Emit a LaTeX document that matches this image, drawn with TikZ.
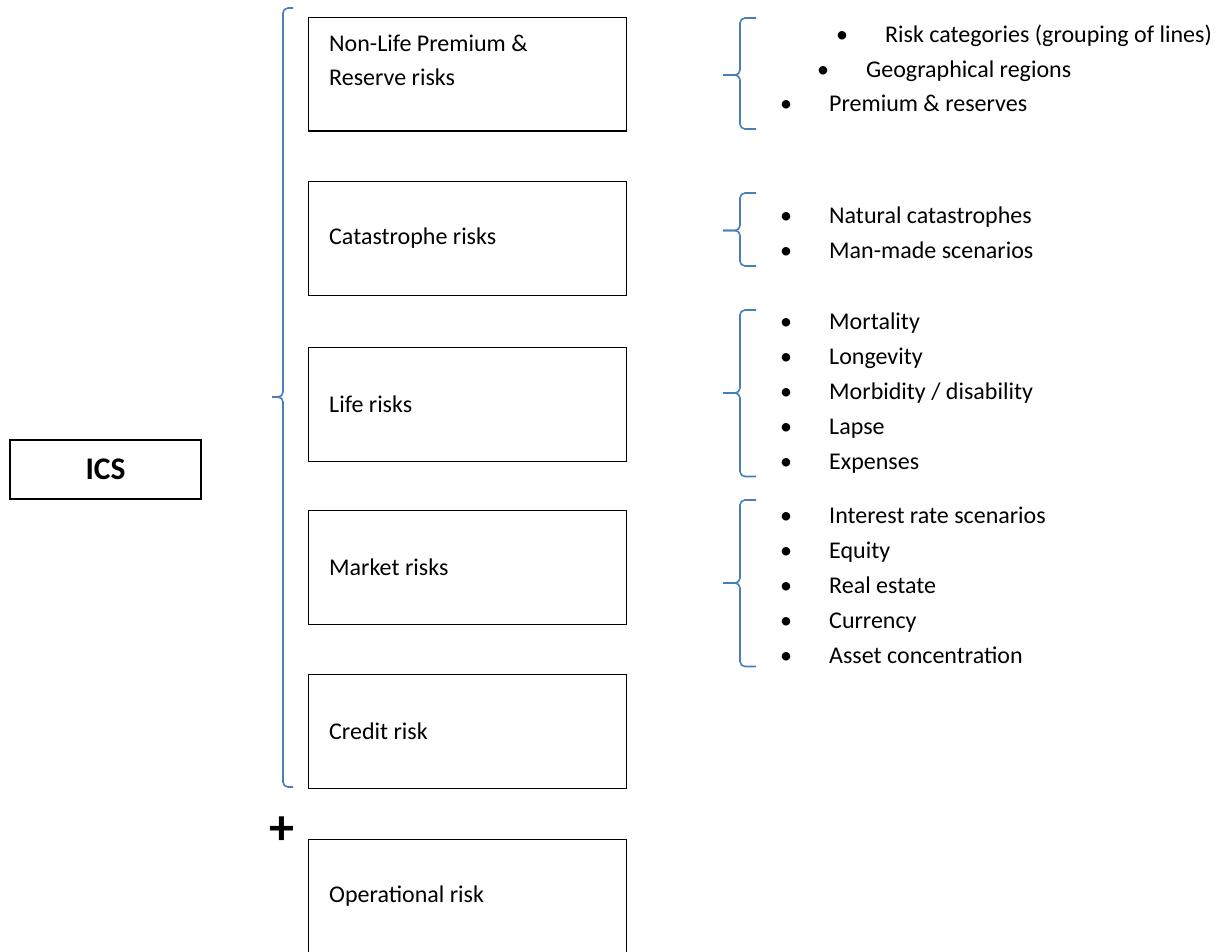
\documentclass[tikz,border=0pt]{standalone}
\usepackage{fontspec}
\setmainfont{Carlito}
\usetikzlibrary{positioning}
\definecolor{braceblue}{HTML}{4A7EBB}

\begin{document}
\begin{tikzpicture}[
    x=1pt, y=-1pt,
    riskbox/.style={
      rectangle, draw=black, line width=1.1pt,
      minimum width=318pt, minimum height=113.5pt,
      anchor=north west, inner sep=0pt,
    },
    icsbox/.style={
      rectangle, draw=black, line width=1.1pt,
      minimum width=191pt, minimum height=59pt,
      font=\fontsize{31.5}{36}\selectfont\bfseries,
    },
    boxtext/.style={anchor=west, align=left, inner sep=0pt,
      font=\fontsize{24}{34}\selectfont},
    item/.style={anchor=base west, inner sep=0pt,
      font=\fontsize{24}{28}\selectfont},
    dot/.style={anchor=base, inner sep=0pt,
      font=\fontsize{24}{28}\selectfont},
    brace/.style={draw=braceblue, line width=1.6pt, rounded corners=5pt},
  ]
  \useasboundingbox (0,0) rectangle (1223,952);

  % ---- ICS ----
  \node[icsbox] (ics) at (105.5, 469.5) {ICS};

  % ---- risk modules ----
  \node[riskbox] (nonlife) at (308, 17)  {};
  \node[riskbox] (cat)     at (308, 181) {};
  \node[riskbox] (life)    at (308, 347) {};
  \node[riskbox] (market)  at (308, 510) {};
  \node[riskbox] (credit)  at (308, 674) {};
  \node[riskbox] (oper)    at (308, 839) {};

  \node[boxtext] (nonlifetxt) at ([xshift=21pt, yshift=14pt]nonlife.west) {Non-Life Premium \&\\Reserve risks};
  \node[boxtext] (cattxt)    at ([xshift=21pt]cat.west)    {Catastrophe risks};
  \node[boxtext] (lifetxt)   at ([xshift=21pt]life.west)   {Life risks};
  \node[boxtext] (markettxt) at ([xshift=21pt]market.west) {Market risks};
  \node[boxtext] (credittxt) at ([xshift=21pt]credit.west) {Credit risk};
  \node[boxtext] (opertxt)   at ([xshift=21pt]oper.west)   {Operational risk};

  % ---- big brace and plus ----
  \draw[brace] (293, 8) -- (283, 8) -- (283, 397) -- (272, 397);
  \draw[brace] (272, 397) -- (283, 397) -- (283, 787) -- (293, 787);
  \node[font=\fontsize{50}{50}\selectfont\bfseries, inner sep=0pt] (plus) at (282, 831) {+};

  % ---- non-life sub-risks ----
  \draw[brace] (756, 18) -- (740, 18) -- (740, 75) -- (723, 75);
  \draw[brace] (723, 75) -- (740, 75) -- (740, 129) -- (756, 129);
  \node[dot]  (d1) at (842, 43)   {\textbullet};
  \node[item] (i1) at (885, 43)   {Risk categories (grouping of lines)};
  \node[dot]  (d2) at (823, 77.5) {\textbullet};
  \node[item] (i2) at (866, 77.5) {Geographical regions};
  \node[dot]  (d3) at (786, 112)  {\textbullet};
  \node[item] (i3) at (829, 112)  {Premium \& reserves};

  % ---- catastrophe sub-risks ----
  \draw[brace] (756, 193) -- (740, 193) -- (740, 230.5) -- (723, 230.5);
  \draw[brace] (723, 230.5) -- (740, 230.5) -- (740, 266) -- (756, 266);
  \node[dot]  (d4) at (786, 223) {\textbullet};
  \node[item] (i4) at (829, 223) {Natural catastrophes};
  \node[dot]  (d5) at (786, 258) {\textbullet};
  \node[item] (i5) at (829, 258) {Man-made scenarios};

  % ---- life sub-risks ----
  \draw[brace] (756, 310) -- (740, 310) -- (740, 393) -- (723, 393);
  \draw[brace] (723, 393) -- (740, 393) -- (740, 476.5) -- (756, 476.5);
  \node[dot]  (d6)  at (786, 329.5) {\textbullet};
  \node[item] (i6)  at (829, 329.5) {Mortality};
  \node[dot]  (d7)  at (786, 364.5) {\textbullet};
  \node[item] (i7)  at (829, 364.5) {Longevity};
  \node[dot]  (d8)  at (786, 399.5) {\textbullet};
  \node[item] (i8)  at (829, 399.5) {Morbidity / disability};
  \node[dot]  (d9)  at (786, 434.5) {\textbullet};
  \node[item] (i9)  at (829, 434.5) {Lapse};
  \node[dot]  (d10) at (786, 469)   {\textbullet};
  \node[item] (i10) at (829, 469)   {Expenses};

  % ---- market sub-risks ----
  \draw[brace] (756, 500) -- (740, 500) -- (740, 583) -- (723, 583);
  \draw[brace] (723, 583) -- (740, 583) -- (740, 666.5) -- (756, 666.5);
  \node[dot]  (d11) at (786, 523.5) {\textbullet};
  \node[item] (i11) at (829, 523.5) {Interest rate scenarios};
  \node[dot]  (d12) at (786, 558.5) {\textbullet};
  \node[item] (i12) at (829, 558.5) {Equity};
  \node[dot]  (d13) at (786, 593.5) {\textbullet};
  \node[item] (i13) at (829, 593.5) {Real estate};
  \node[dot]  (d14) at (786, 628)   {\textbullet};
  \node[item] (i14) at (829, 628)   {Currency};
  \node[dot]  (d15) at (786, 663)   {\textbullet};
  \node[item] (i15) at (829, 663)   {Asset concentration};

\end{tikzpicture}
\end{document}
